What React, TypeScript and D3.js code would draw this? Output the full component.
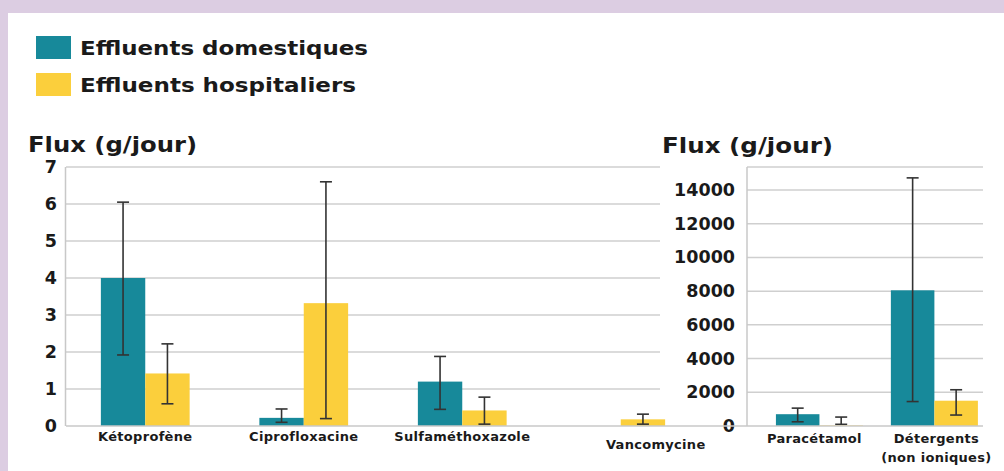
import React from 'react';
import * as d3 from 'd3';

// legend / series
const seriesNames = ['Effluents domestiques', 'Effluents hospitaliers'];
const seriesColors = ['#17899a', '#fbcf3c'];

// left panel (g/jour)
const leftCategories = ['Kétoprofène', 'Ciprofloxacine', 'Sulfaméthoxazole', 'Vancomycine'];
const domLeft = [4.0, 0.22, 1.2, 0];
const domLeftLow = [1.92, 0.1, 0.45, null];
const domLeftHigh = [6.05, 0.46, 1.88, null];
const hospLeft = [1.42, 3.32, 0.42, 0.18];
const hospLeftLow = [0.6, 0.2, 0.05, 0.05];
const hospLeftHigh = [2.22, 6.6, 0.78, 0.32];
const leftTicks = [0, 1, 2, 3, 4, 5, 6, 7];

// right panel (g/jour)
const rightCategories = [['Paracétamol'], ['Détergents', '(non ioniques)']];
const domRight = [700, 8050];
const domRightLow = [250, 1450];
const domRightHigh = [1060, 14720];
const hospRight = [30, 1500];
const hospRightLow = [100, 650];
const hospRightHigh = [530, 2150];
const rightTicks = [0, 2000, 4000, 6000, 8000, 10000, 12000, 14000];

const FONT = '"DejaVu Sans", Verdana, sans-serif';
const INK = '#1a1a1a';
const y0 = 426;
const yTop = 167;

const ErrorBar = ({ x, lo, hi }: { x: number; lo: number; hi: number }) => (
  <g stroke="#333" strokeWidth={1.6}>
    <line x1={x} x2={x} y1={hi} y2={lo} />
    <line x1={x - 6} x2={x + 6} y1={hi} y2={hi} />
    <line x1={x - 6} x2={x + 6} y1={lo} y2={lo} />
  </g>
);

const CatLabel = ({ x, y, children }: { x: number; y: number; children: string }) => (
  <text
    x={x}
    y={y}
    textAnchor="middle"
    fontFamily={FONT}
    fontWeight="bold"
    fontSize={13}
    letterSpacing={0.3}
    fill={INK}
  >
    {children}
  </text>
);

const App = () => {
  // left scales
  const xL = d3.scaleBand<string>().domain(leftCategories).range([66, 700]).paddingInner(0.44).paddingOuter(0.22);
  const yL = d3.scaleLinear().domain([0, 7]).range([y0, yTop]);

  // right scales
  const rightKeys = rightCategories.map((c) => c.join(' '));
  const xR = d3.scaleBand<string>().domain(rightKeys).range([747, 983]).paddingInner(0.243).paddingOuter(0.148).align(0.85);
  const yR = d3.scaleLinear().domain([0, 15365]).range([y0, yTop]);

  const bwL = xL.bandwidth() / 2;
  const bwR = xR.bandwidth() / 2;

  return (
    <svg width={1004} height={471} style={{ position: 'absolute', left: 0, top: 0 }}>
      <rect width={1004} height={471} fill="#dccde2" />
      <rect x={8} y={13} width={996} height={458} fill="#ffffff" />

      {/* legend */}
      {seriesNames.map((s, i) => (
        <g key={s}>
          <rect x={36} y={36 + i * 37} width={35} height={23} fill={seriesColors[i]} />
          <text
            x={80}
            y={55 + i * 37}
            fontFamily={FONT}
            fontWeight="bold"
            fontSize={20}
            textLength={i === 0 ? 288 : 276}
            lengthAdjust="spacingAndGlyphs"
            fill={INK}
          >
            {s}
          </text>
        </g>
      ))}

      {/* left chart */}
      <text x={28} y={152} fontFamily={FONT} fontWeight="bold" fontSize={21} textLength={169} lengthAdjust="spacingAndGlyphs" fill={INK}>
        Flux (g/jour)
      </text>
      {leftTicks.map((t) => (
        <g key={t}>
          {t > 0 && <line x1={66} x2={660} y1={yL(t)} y2={yL(t)} stroke="#cfcfcf" strokeWidth={1.5} />}
          <text x={57} y={yL(t) + 6} textAnchor="end" fontFamily={FONT} fontWeight="bold" fontSize={17.5} fill={INK}>
            {t}
          </text>
        </g>
      ))}
      <line x1={65.5} x2={65.5} y1={yTop} y2={y0} stroke="#c8c8c8" strokeWidth={1.5} />
      {leftCategories.map((c, i) => {
        const x = xL(c)!;
        return (
          <g key={c}>
            <rect x={x} y={yL(domLeft[i])} width={bwL} height={y0 - yL(domLeft[i])} fill={seriesColors[0]} />
            <rect x={x + bwL} y={yL(hospLeft[i])} width={bwL} height={y0 - yL(hospLeft[i])} fill={seriesColors[1]} />
            {domLeftLow[i] != null && (
              <ErrorBar x={x + bwL / 2} lo={yL(domLeftLow[i]!)} hi={yL(domLeftHigh[i]!)} />
            )}
            <ErrorBar x={x + bwL * 1.5} lo={yL(hospLeftLow[i])} hi={yL(hospLeftHigh[i])} />
            <CatLabel x={x + bwL + (i === 3 ? 35 : 0)} y={i === 3 ? 449 : 441}>
              {c}
            </CatLabel>
          </g>
        );
      })}
      <line x1={66} x2={716} y1={y0} y2={y0} stroke="#c8c8c8" strokeWidth={1.5} />

      {/* right chart */}
      <text x={662} y={153} fontFamily={FONT} fontWeight="bold" fontSize={21} textLength={171} lengthAdjust="spacingAndGlyphs" fill={INK}>
        Flux (g/jour)
      </text>
      {rightTicks.map((t) => (
        <g key={t}>
          {t > 0 && <line x1={747} x2={983} y1={yR(t)} y2={yR(t)} stroke="#cfcfcf" strokeWidth={1.5} />}
          <text x={735} y={yR(t) + 6} textAnchor="end" fontFamily={FONT} fontWeight="bold" fontSize={17.5} fill={INK}>
            {t}
          </text>
        </g>
      ))}
      <line x1={747} x2={983} y1={yTop} y2={yTop} stroke="#cfcfcf" strokeWidth={1.5} />
      <line x1={747} x2={747} y1={yTop} y2={y0} stroke="#c8c8c8" strokeWidth={1.5} />
      {rightKeys.map((k, i) => {
        const x = xR(k)!;
        return (
          <g key={k}>
            <rect x={x} y={yR(domRight[i])} width={bwR} height={y0 - yR(domRight[i])} fill={seriesColors[0]} />
            <rect x={x + bwR} y={yR(hospRight[i])} width={bwR} height={y0 - yR(hospRight[i])} fill={seriesColors[1]} />
            <ErrorBar x={x + bwR / 2} lo={yR(domRightLow[i])} hi={yR(domRightHigh[i])} />
            <ErrorBar x={x + bwR * 1.5} lo={yR(hospRightLow[i])} hi={yR(hospRightHigh[i])} />
            {rightCategories[i].map((line, j) => (
              <CatLabel key={line} x={x + bwR - (i === 0 ? 5 : -2)} y={443 + j * 19}>
                {line}
              </CatLabel>
            ))}
          </g>
        );
      })}
      <line x1={716} x2={983} y1={y0} y2={y0} stroke="#c8c8c8" strokeWidth={1.5} />
    </svg>
  );
};

export default App;
